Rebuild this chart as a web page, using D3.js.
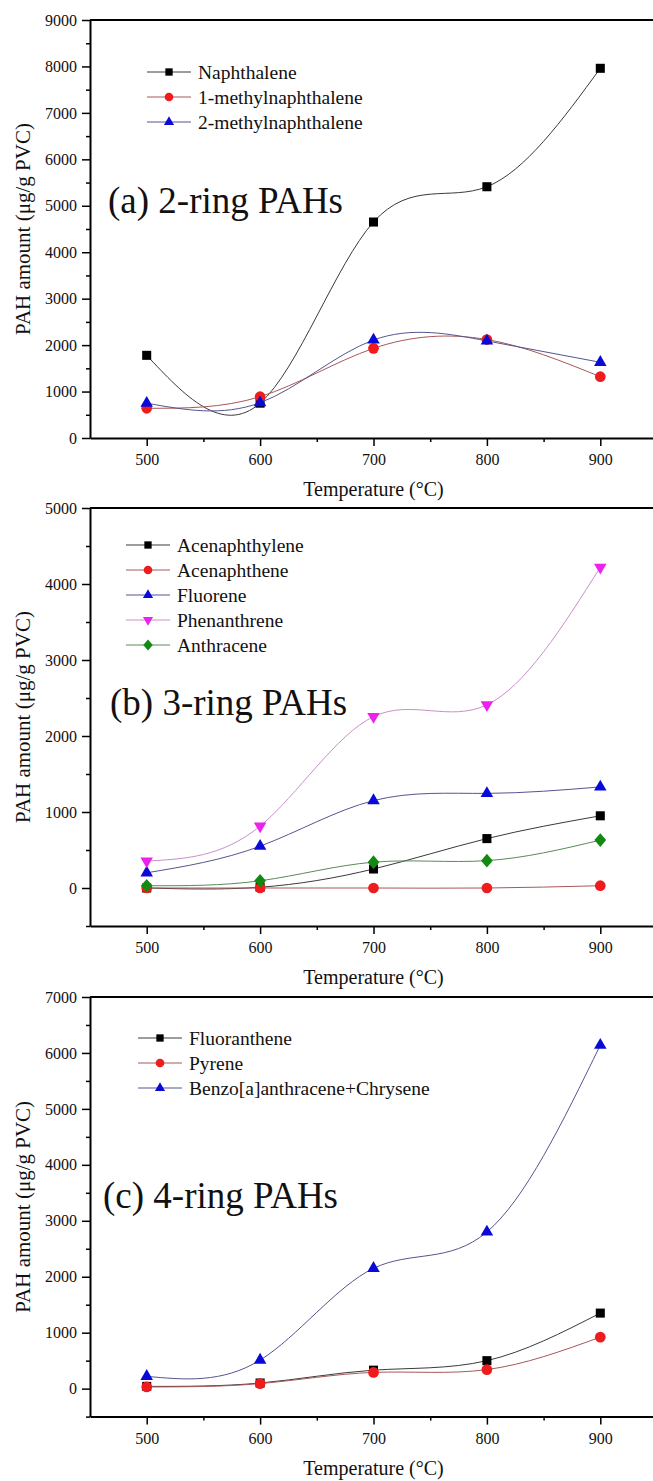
<!DOCTYPE html>
<html>
<head>
<meta charset="utf-8">
<script src="https://cdn.jsdelivr.net/npm/d3@7"></script>
<style>
  body { margin: 0; background: #fff; }
  svg { display: block; }
  text { font-family: "Liberation Serif", "Times New Roman", serif; fill: #111; }
</style>
</head>
<body>
<script>
// temperatures (°C)
var temps = [500, 600, 700, 800, 900];

// (a) 2-ring PAHs, µg/g PVC
var naphthalene = [1780, 750, 4650, 5410, 7960];
var methylnaph1 = [640, 890, 1930, 2120, 1320];
var methylnaph2 = [750, 760, 2110, 2090, 1630];

// (b) 3-ring PAHs
var acenaphthylene = [0, 10, 250, 650, 950];
var acenaphthene = [0, 0, 0, 0, 30];
var fluorene = [200, 550, 1150, 1245, 1330];
var phenanthrene = [355, 815, 2255, 2410, 4220];
var anthracene = [30, 95, 340, 360, 630];

// (c) 4-ring PAHs
var fluoranthene = [40, 100, 330, 500, 1350];
var pyrene = [30, 90, 290, 340, 920];
var benzoChrysene = [220, 510, 2150, 2800, 6140];

var xTicks = [500, 600, 700, 800, 900];
var yTicksA = [0, 1000, 2000, 3000, 4000, 5000, 6000, 7000, 8000, 9000];
var yTicksB = [0, 1000, 2000, 3000, 4000, 5000];
var yTicksC = [0, 1000, 2000, 3000, 4000, 5000, 6000, 7000];

var width = 653, height = 1481;

var svg = d3.select("body").append("svg")
  .attr("width", width)
  .attr("height", height);

var x = d3.scaleLinear().domain([450, 950]).range([90, 657]);

// custom diamond (square turned 45deg, slightly tall)
var diamond = {
  draw: function(ctx, size) {
    var w = Math.sqrt(size) * 0.62, h = Math.sqrt(size) * 0.72;
    ctx.moveTo(0, -h); ctx.lineTo(w, 0); ctx.lineTo(0, h); ctx.lineTo(-w, 0); ctx.closePath();
  }
};
var triDown = {
  draw: function(ctx, size) {
    var s = Math.sqrt(size / (Math.sqrt(3) / 4));
    var hh = s * Math.sqrt(3) / 2;
    ctx.moveTo(-s / 2, -hh / 3); ctx.lineTo(s / 2, -hh / 3); ctx.lineTo(0, hh * 2 / 3); ctx.closePath();
  }
};

var kinds = {
  square: { type: d3.symbolSquare, size: 82, fill: "#000", line: "#3a3a3a" },
  circle: { type: d3.symbolCircle, size: 90, fill: "#ee1c1c", line: "#a85858" },
  tri: { type: d3.symbolTriangle, size: 68, fill: "#0a0ad8", line: "#55558f" },
  triDown: { type: triDown, size: 68, fill: "#ee20ee", line: "#c890c8" },
  diamond: { type: diamond, size: 90, fill: "#128a12", line: "#5a8a5a" }
};

var panels = [
  {
    top: 20, bottom: 438, domain: [0, 9000], ticks: yTicksA,
    title: "(a) 2-ring PAHs", titleX: 108, titleY: 213,
    legX: 169, legY: 72,
    series: [
      { name: "Naphthalene", values: naphthalene, kind: "square" },
      { name: "1-methylnaphthalene", values: methylnaph1, kind: "circle" },
      { name: "2-methylnaphthalene", values: methylnaph2, kind: "tri" }
    ]
  },
  {
    top: 508, bottom: 926, domain: [-500, 5000], ticks: yTicksB,
    title: "(b) 3-ring PAHs", titleX: 110, titleY: 715,
    legX: 148, legY: 545,
    series: [
      { name: "Acenaphthylene", values: acenaphthylene, kind: "square" },
      { name: "Acenaphthene", values: acenaphthene, kind: "circle" },
      { name: "Fluorene", values: fluorene, kind: "tri" },
      { name: "Phenanthrene", values: phenanthrene, kind: "triDown" },
      { name: "Anthracene", values: anthracene, kind: "diamond" }
    ]
  },
  {
    top: 997, bottom: 1416.6, domain: [-500, 7000], ticks: yTicksC,
    title: "(c) 4-ring PAHs", titleX: 103, titleY: 1208,
    legX: 160, legY: 1038,
    series: [
      { name: "Fluoranthene", values: fluoranthene, kind: "square" },
      { name: "Pyrene", values: pyrene, kind: "circle" },
      { name: "Benzo[a]anthracene+Chrysene", values: benzoChrysene, kind: "tri" }
    ]
  }
];

panels.forEach(function(p) {
  var y = d3.scaleLinear().domain(p.domain).range([p.bottom, p.top]);
  var g = svg.append("g");

  // minor ticks
  var yMinor = d3.range(p.domain[0], p.domain[1] + 1, 500).filter(function(v) { return v % 1000 !== 0; });
  g.append("g")
    .attr("transform", "translate(90,0)")
    .call(d3.axisLeft(y).tickValues(yMinor).tickSize(4).tickSizeOuter(0).tickFormat(""))
    .call(function(a) { a.select(".domain").remove(); a.selectAll("line").attr("stroke-width", 1.5); });
  g.append("g")
    .attr("transform", "translate(0," + p.bottom + ")")
    .call(d3.axisBottom(x).tickValues([550, 650, 750, 850]).tickSize(4).tickSizeOuter(0).tickFormat(""))
    .call(function(a) { a.select(".domain").remove(); a.selectAll("line").attr("stroke-width", 1.5); });

  // major axes
  var ya = g.append("g")
    .attr("transform", "translate(90,0)")
    .call(d3.axisLeft(y).tickValues(p.ticks).tickSize(8).tickSizeOuter(0).tickPadding(5).tickFormat(d3.format("d")));
  var xa = g.append("g")
    .attr("transform", "translate(0," + p.bottom + ")")
    .call(d3.axisBottom(x).tickValues(xTicks).tickSize(8).tickSizeOuter(0).tickPadding(8));
  [ya, xa].forEach(function(a) {
    a.select(".domain").attr("stroke-width", 2);
    a.selectAll(".tick line").attr("stroke-width", 1.5);
    a.selectAll("text").attr("font-family", "Liberation Serif").attr("font-size", 16).attr("fill", "#111");
  });

  // frame top and right
  g.append("path")
    .attr("d", "M90," + p.top + "H657V" + p.bottom)
    .attr("fill", "none").attr("stroke", "#000").attr("stroke-width", 2);

  // axis titles
  g.append("text")
    .attr("x", 373.5).attr("y", p.bottom + 58)
    .attr("text-anchor", "middle").attr("font-size", 20)
    .text("Temperature (°C)");
  g.append("text")
    .attr("transform", "translate(30," + ((p.top + p.bottom) / 2) + ") rotate(-90)")
    .attr("text-anchor", "middle").attr("font-size", 21)
    .text("PAH amount (μg/g PVC)");

  // panel title
  g.append("text")
    .attr("x", p.titleX).attr("y", p.titleY)
    .attr("font-size", 37)
    .text(p.title);

  var line = d3.line()
    .x(function(d, i) { return x(temps[i]); })
    .y(function(d) { return y(d); })
    .curve(d3.curveNatural);

  p.series.forEach(function(s) {
    var k = kinds[s.kind];
    g.append("path")
      .attr("d", line(s.values))
      .attr("fill", "none").attr("stroke", k.line).attr("stroke-width", 1);
    g.selectAll(null)
      .data(s.values)
      .enter()
      .append("path")
      .attr("transform", function(d, i) { return "translate(" + x(temps[i]) + "," + y(d) + ")"; })
      .attr("d", d3.symbol().type(k.type).size(k.size))
      .attr("fill", k.fill);
  });

  // legend
  var leg = g.append("g");
  p.series.forEach(function(s, i) {
    var k = kinds[s.kind];
    var ly = p.legY + i * 25;
    leg.append("line")
      .attr("x1", p.legX - 22).attr("x2", p.legX + 22)
      .attr("y1", ly).attr("y2", ly)
      .attr("stroke", k.line).attr("stroke-width", 1);
    leg.append("path")
      .attr("transform", "translate(" + p.legX + "," + ly + ")")
      .attr("d", d3.symbol().type(k.type).size(k.size * 0.65))
      .attr("fill", k.fill);
    leg.append("text")
      .attr("x", p.legX + 29).attr("y", ly + 6.5)
      .attr("font-size", 19.5)
      .text(s.name);
  });
});
</script>
</body>
</html>
